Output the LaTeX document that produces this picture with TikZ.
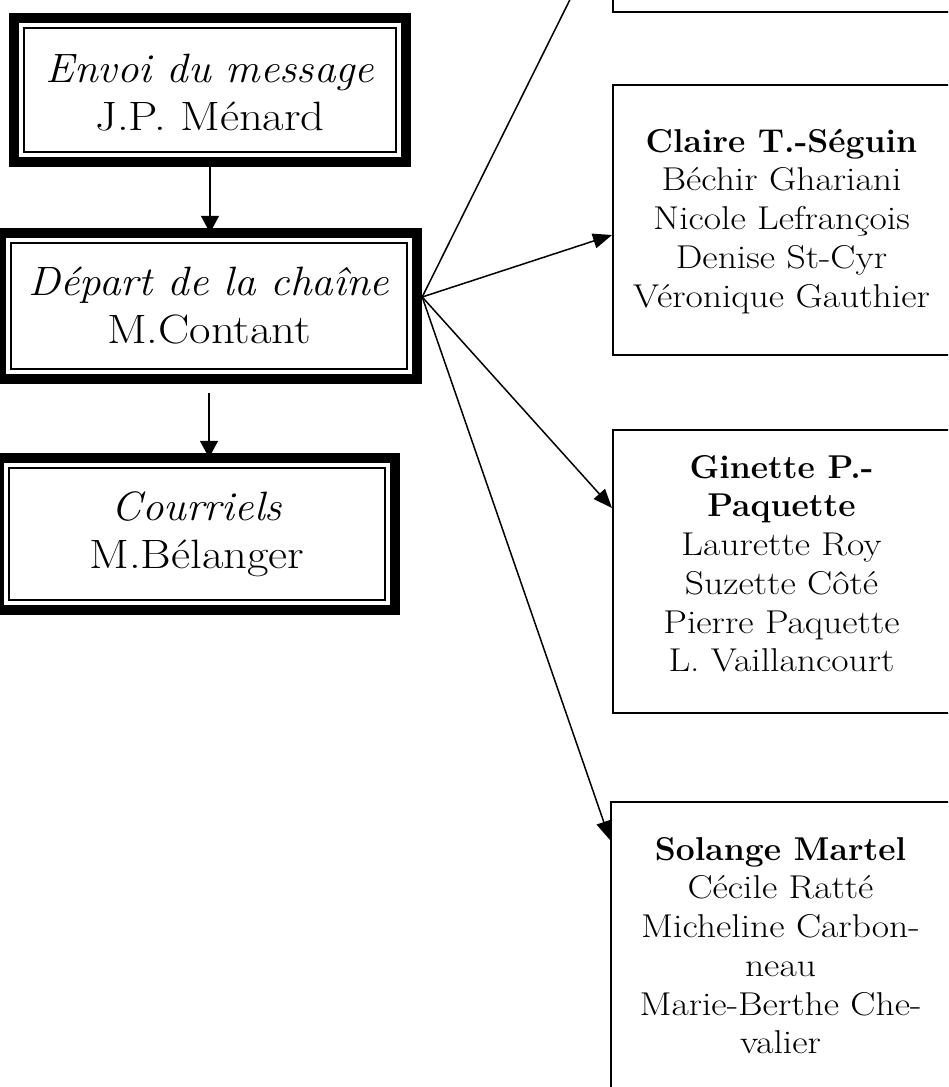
\documentclass[tikz,border=0pt]{standalone}
\usepackage{fontspec}
\setmainfont{Latin Modern Roman}[
  UprightFeatures={FakeStretch=1.14},
  ItalicFeatures={FakeStretch=1.05},
  BoldFeatures={FakeStretch=1.02}]
\usetikzlibrary{arrows.meta}
\newcommand{\thickthin}[1]{%
  \draw[line width=10.5pt] ([shift={(5.25pt,-5.25pt)}]#1.north west) rectangle ([shift={(-5.25pt,5.25pt)}]#1.south east);
  \draw[line width=1.5pt] ([shift={(15pt,-15pt)}]#1.north west) rectangle ([shift={(-15pt,15pt)}]#1.south east);}
\newcommand{\ltitle}{\itshape}
\begin{document}
\begin{tikzpicture}[x=1pt,y=-1pt,
  lbox/.style={rectangle, inner sep=0pt, align=center, font=\fontsize{41}{48}\selectfont},
  rbox/.style={rectangle, draw, line width=2pt, inner sep=0pt, align=center, font=\fontsize{33}{38.75}\selectfont},
  conn/.style={line width=1.5pt, -{Triangle[length=19pt,width=15pt]}},
  vconn/.style={line width=1.5pt, -{Triangle[length=17pt,width=18pt]}}]
\useasboundingbox (0,0) rectangle (948,1087);
\clip (0,0) rectangle (948,1087);
\fill[white] (0,0) rectangle (948,1087);

% left column
\node[lbox, minimum width=402, minimum height=154] (envoi) at (210,90)
  {{\rule{0pt}{40pt}\ltitle Envoi du message}\\J.P. Ménard\rule[-8pt]{0pt}{8pt}};
\node[lbox, minimum width=426, minimum height=156] (depart) at (209,306)
  {{\rule{0pt}{34pt}\ltitle Départ de la chaîne}\\M.Contant\rule[-8pt]{0pt}{8pt}};
\node[lbox, minimum width=406, minimum height=162] (courriels) at (197,534)
  {{\rule{0pt}{30pt}\ltitle Courriels}\\M.Bélanger\rule[-10pt]{0pt}{10pt}};
\thickthin{envoi}
\thickthin{depart}
\thickthin{courriels}

% right column
\node[rbox, minimum width=337, minimum height=194] (topbox) at (781.5,-85) {};
\node[rbox, minimum width=337, minimum height=270] (claire) at (781.5,220)
  {{\rule{0pt}{27pt}\bfseries Claire T.-Séguin}\\Béchir Ghariani\\Nicole Lefrançois\\Denise St-Cyr\\Véronique Gauthier\rule[-8pt]{0pt}{8pt}};
\node[rbox, minimum width=337, minimum height=283] (ginette) at (781.5,571.5)
  {{\rule{0pt}{26pt}\bfseries Ginette P.-}\\{\bfseries Paquette}\\Laurette Roy\\Suzette Côté\\Pierre Paquette\\L. Vaillancourt\rule[-19.25pt]{0pt}{19.25pt}};
\node[rbox, minimum width=339, minimum height=298] (solange) at (780.5,951)
  {{\rule{0pt}{26pt}\bfseries Solange Martel}\\Cécile Ratté\\Micheline Carbon-\\neau\\Marie-Berthe Che-\\valier\rule[-14.25pt]{0pt}{14.25pt}};

% connectors
\coordinate (t1) at ([yshift=-5pt]depart.north);
\draw[vconn] (envoi.south) -- (envoi.south |- t1);
\coordinate (s2) at ([yshift=-9pt]depart.south);
\coordinate (t2) at ([yshift=-5pt]courriels.north);
\draw[vconn] (s2) -- (s2 |- t2);

\coordinate (fan) at ([yshift=9pt]depart.east);
\draw[conn] (fan) -- (topbox.west);
\draw[conn] (fan) -- ([yshift=-15pt]claire.west);
\draw[conn] (fan) -- ([yshift=63.5pt]ginette.west);
\draw[conn] (fan) -- ([yshift=111pt]solange.west);
\end{tikzpicture}
\end{document}
